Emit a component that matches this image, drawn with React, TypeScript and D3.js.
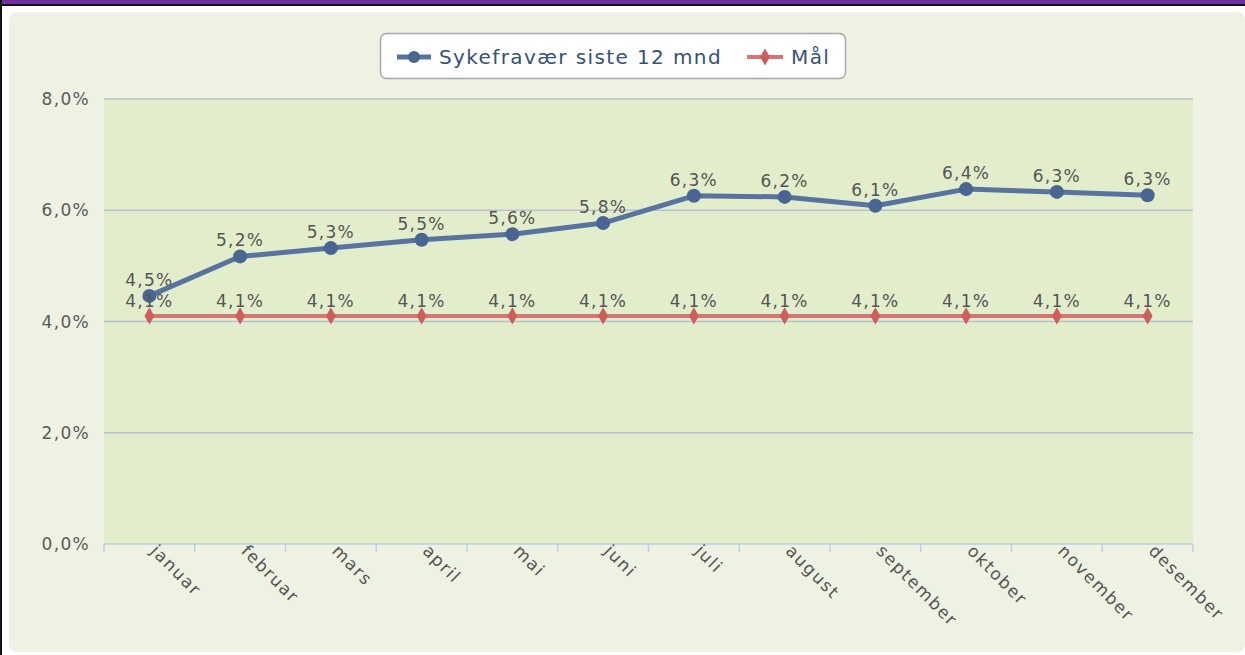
import React from "react";
import * as d3 from "d3";

const months = ["januar", "februar", "mars", "april", "mai", "juni", "juli", "august", "september", "oktober", "november", "desember"];
const sykefravaer = [4.46, 5.17, 5.32, 5.47, 5.57, 5.77, 6.26, 6.24, 6.08, 6.38, 6.33, 6.27];
const maal = [4.1, 4.1, 4.1, 4.1, 4.1, 4.1, 4.1, 4.1, 4.1, 4.1, 4.1, 4.1];
const yTicks = [0, 2, 4, 6, 8];
const seriesNames = ["Sykefravær siste 12 mnd", "Mål"];

const W = 1245, H = 655;
const plot = { left: 104, right: 1193, top: 99, bottom: 544 };
const FONT = "'DejaVu Sans', Verdana, sans-serif";
const BLUE = "#5873a0";
const BLUE_M = "#4a6592";
const RED = "#d47673";
const RED_M = "#cc5f5c";
const LS = 1.3;

const fmt = (v: number) => v.toFixed(1).replace(".", ",") + "%";

export default function App() {
  const x = d3.scaleBand<string>().domain(months).range([plot.left, plot.right]);
  const y = d3.scaleLinear().domain([0, 8]).range([plot.bottom, plot.top]);
  const cx = (m: string) => (x(m) as number) + x.bandwidth() / 2;
  const line = d3.line<number>().x((_, i) => cx(months[i])).y((d) => y(d));
  const diamond = d3.symbol().type(d3.symbolDiamond).size(85)();

  return (
    <svg width={W} height={H} style={{ position: "absolute", left: 0, top: 0, display: "block" }}>
      <rect x={0} y={0} width={W} height={H} fill="#ffffff" />
      <rect x={9} y={12} width={W - 9} height={640} rx={8} fill="#eef2e3" />
      <rect x={0} y={0} width={W} height={5} fill="#7030a0" />
      <rect x={0} y={4} width={W} height={2} fill="#111" />
      <rect x={0} y={0} width={2} height={H} fill="#111" />

      <rect x={plot.left} y={plot.top} width={plot.right - plot.left} height={plot.bottom - plot.top} fill="#e2eecb" />
      {yTicks.map((t) => (
        <g key={t}>
          {t > 0 && <line x1={plot.left} x2={plot.right} y1={y(t)} y2={y(t)} stroke="#b9bfcc" strokeWidth={1.5} />}
          <text x={90} y={y(t) + 6} textAnchor="end" fontFamily={FONT} fontSize={17} letterSpacing={LS} fill="#5a5a5a">{fmt(t)}</text>
        </g>
      ))}
      <line x1={plot.left} x2={plot.right} y1={plot.bottom} y2={plot.bottom} stroke="#bcd0e4" strokeWidth={1.5} />
      {months.concat(["_end"]).map((m, i) => {
        const xx = i < months.length ? (x(m) as number) : plot.right;
        return <line key={m} x1={xx} x2={xx} y1={plot.bottom} y2={plot.bottom + 8} stroke="#bcd0e4" strokeWidth={1.5} />;
      })}
      {months.map((m) => (
        <text key={m} transform={`translate(${cx(m)},${plot.bottom + 8}) rotate(45)`} fontFamily={FONT} fontSize={17} letterSpacing={1.6} fill="#555">{m}</text>
      ))}

      <path d={line(maal) as string} fill="none" stroke={RED} strokeWidth={4} />
      {maal.map((v, i) => (
        <path key={i} d={diamond as string} transform={`translate(${cx(months[i])},${y(v)})`} fill={RED_M} />
      ))}
      <path d={line(sykefravaer) as string} fill="none" stroke={BLUE} strokeWidth={5} strokeLinejoin="round" />
      {sykefravaer.map((v, i) => (
        <circle key={i} cx={cx(months[i])} cy={y(v)} r={7} fill={BLUE_M} />
      ))}

      {maal.map((v, i) => (
        <text key={"m" + i} x={cx(months[i])} y={y(v) - 9} textAnchor="middle" fontFamily={FONT} fontSize={17} letterSpacing={LS} fill="#555">{fmt(v)}</text>
      ))}
      {sykefravaer.map((v, i) => (
        <text key={"s" + i} x={cx(months[i])} y={y(v) - 10} textAnchor="middle" fontFamily={FONT} fontSize={17} letterSpacing={LS} fill="#555">{fmt(v)}</text>
      ))}

      <g>
        <rect x={380.5} y={33.5} width={465} height={45} rx={6} fill="#ffffff" stroke="#a8a8a8" strokeWidth={1.5} />
        <line x1={397} x2={431} y1={57} y2={57} stroke={BLUE} strokeWidth={5} />
        <circle cx={414} cy={57} r={6} fill={BLUE_M} />
        <text x={439} y={64} fontFamily={FONT} fontSize={20} letterSpacing={1.4} fill="#34527a">{seriesNames[0]}</text>
        <line x1={747} x2={783} y1={57} y2={57} stroke={RED} strokeWidth={4} />
        <path d={diamond as string} transform="translate(765,57)" fill={RED_M} />
        <text x={791} y={64} fontFamily={FONT} fontSize={20} letterSpacing={1.4} fill="#34527a">{seriesNames[1]}</text>
      </g>
    </svg>
  );
}
